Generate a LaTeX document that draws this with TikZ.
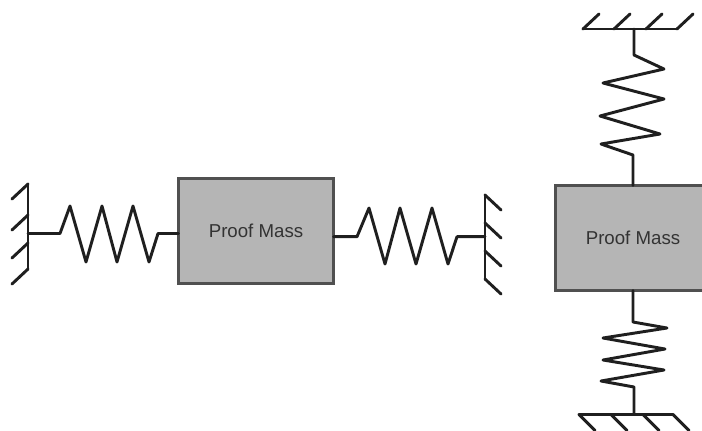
\documentclass[tikz,border=0pt]{standalone}
\usepackage{fontspec}
\setmainfont{Liberation Sans}
\usepackage{xcolor}
\usetikzlibrary{math}
\definecolor{massfill}{HTML}{B5B5B5}
\definecolor{massedge}{HTML}{505050}
\definecolor{masstext}{HTML}{333333}
\tikzset{
mass/.style={draw=massedge,fill=massfill,line width=2.25pt,minimum width=155*0.75pt,minimum height=105*0.75pt,inner sep=0pt,outer sep=0pt,text=masstext,font=\fontsize{14}{16}\selectfont},
spring/.style={line width=2.2pt,color=black!88,line join=round,line cap=round},
}

\begin{document}
\begin{tikzpicture}[x=0.75pt,y=-0.75pt]
\tikzmath{
\tx=16;
\ty=15;
}
\clip (0,0) rectangle (702,430);

\node[mass] (massleft) at (256,231) {Proof Mass};
\node[mass] (massright) at (633,238) {Proof Mass};

\coordinate (wallleft) at (28,233.5);
\coordinate (wallright) at (485,236.7);
\coordinate (walltop) at (634,29);
\coordinate (wallbottom) at (634,414.5);

%left wall
\draw[spring] (28,184) -- (28,269);
\foreach \y in {184,215,243,269} {
\draw[spring] (28,\y) -- ++(-\tx,\ty);
}

%right wall
\draw[spring] (485,195) -- (485,279);
\foreach \y in {195,223,251,279} {
\draw[spring] (485,\y) -- ++(\tx,\ty);
}

%top wall
\draw[spring] (583,29) -- (677,29);
\foreach \x in {583,614,646,677} {
\draw[spring] (\x,29) -- ++(\tx,-\ty);
}

%bottom wall
\draw[spring] (579,414.5) -- (673,414.5);
\foreach \x in {579,611,643,673} {
\draw[spring] (\x,414.5) -- ++(\tx,\ty+1);
}

%springs
\draw[spring] (wallleft) -- (60,233.5) -- (70,206) -- (86,262) -- (102,206) -- (117,262) -- (133,206) -- (149,262) -- (158,233.5) -- (massleft.west |- wallleft);
\draw[spring] (massleft.east |- wallright) -- (357,236.7) -- (369,208) -- (385,264) -- (400,208) -- (416,264) -- (432,208) -- (448,264) -- (457,236.7) -- (wallright);
\draw[spring] (walltop) -- (634,55) -- (664,69) -- (603,83) -- (664,99) -- (600,116) -- (660,134) -- (601,144) -- (633,155) -- (massright.north -| 633,0);
\draw[spring] (massright.south -| 633,0) -- (633,322) -- (667,328) -- (603,338) -- (665,349) -- (603,360) -- (664,370) -- (601,381) -- (634,387) -- (wallbottom);

\end{tikzpicture}
\end{document}
